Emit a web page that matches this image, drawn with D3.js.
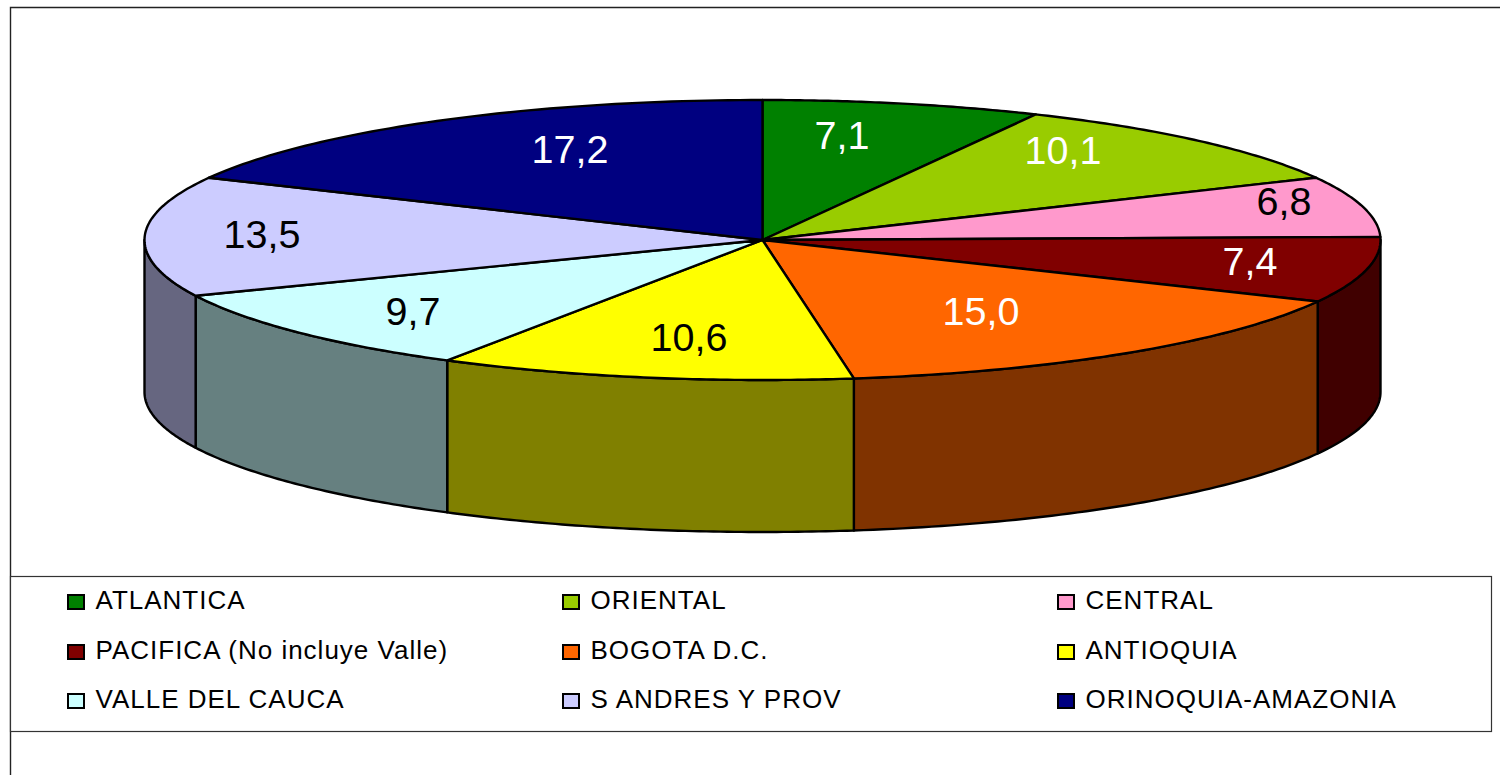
<!DOCTYPE html>
<html><head><meta charset="utf-8">
<script src="https://cdnjs.cloudflare.com/ajax/libs/d3/7.8.5/d3.min.js"></script>
<style>html,body{margin:0;padding:0;background:#fff;overflow:hidden}svg{display:block}text{font-family:"Liberation Sans",Arial,sans-serif}</style>
</head><body><svg id="c" width="1500" height="775"></svg>
<script>
const categories=["ATLANTICA","ORIENTAL","CENTRAL","PACIFICA (No incluye Valle)","BOGOTA D.C.","ANTIOQUIA","VALLE DEL CAUCA","S ANDRES Y PROV","ORINOQUIA-AMAZONIA"];
const values=[7.1,10.1,6.8,7.4,15.0,10.6,9.7,13.5,17.2];
const colors=["#008000","#99CC00","#FF99CC","#800000","#FF6600","#FFFF00","#CCFFFF","#CCCCFF","#000080"];
const labelColors=["#fff","#fff","#000","#fff","#fff","#000","#000","#000","#fff"];
const labelOffsets=[[80,-105],[301,-90],[522,-39],[488,21],[219,71],[-73,97],[-349,71],[-500,-6],[-192,-91]];

const cx=762.5,cy=240,rx=618,ry=140,depth=152;
const svg=d3.select("#c");
svg.append("rect").attr("width",1500).attr("height",775).attr("fill","#fff");
svg.append("path").attr("d","M10.5,775V7.5H1500").attr("fill","none").attr("stroke","#222").attr("stroke-width",1.4);
svg.append("rect").attr("x",10.5).attr("y",576.5).attr("width",1481).attr("height",155).attr("fill","#fff").attr("stroke","#333").attr("stroke-width",1.2);

const pie=d3.pie().sort(null).value(d=>d)(values);
const px=a=>cx+rx*Math.sin(a), py=(a,z=0)=>cy-ry*Math.cos(a)+z;
const g=svg.append("g").attr("stroke","#000").attr("stroke-width",2.4).attr("stroke-linejoin","round");

// side walls: visible front half only
const lo=Math.PI/2, hi=3*Math.PI/2;
pie.forEach((p,i)=>{
  const a0=Math.max(p.startAngle,lo), a1=Math.min(p.endAngle,hi);
  if(a1<=a0) return;
  const ang=d3.range(0,61).map(k=>a0+(a1-a0)*k/60);
  const pts=ang.map(a=>[px(a),py(a)]).concat(ang.slice().reverse().map(a=>[px(a),py(a,depth)]));
  g.append("path").attr("d",d3.line()(pts)+"Z").attr("fill",d3.interpolateRgb(colors[i],"#000")(0.5));
});
// top face
pie.forEach((p,i)=>{
  const ang=d3.range(0,61).map(k=>p.startAngle+(p.endAngle-p.startAngle)*k/60);
  const pts=[[cx,cy]].concat(ang.map(a=>[px(a),py(a)]));
  g.append("path").attr("d",d3.line()(pts)+"Z").attr("fill",colors[i]);
});
// data labels
svg.append("g").selectAll("text").data(values).join("text")
  .attr("x",(d,i)=>cx+labelOffsets[i][0]-0.5).attr("y",(d,i)=>cy+labelOffsets[i][1]+13.5)
  .attr("text-anchor","middle").attr("font-size",39.5).attr("fill",(d,i)=>labelColors[i])
  .text(d=>d.toFixed(1).replace(".",","));
// legend
const colX=d3.scaleOrdinal().domain([0,1,2]).range([68,563,1058]);
const rowY=d3.scaleOrdinal().domain([0,1,2]).range([602,652,701]);
const lg=svg.append("g");
categories.forEach((c,i)=>{
  const x=colX(i%3),y=rowY(Math.floor(i/3));
  lg.append("rect").attr("x",x).attr("y",y-7).attr("width",16).attr("height",14).attr("fill",colors[i]).attr("stroke","#000").attr("stroke-width",2);
  lg.append("text").attr("x",x+27.5).attr("y",y+7).attr("font-size",26).attr("letter-spacing",1).attr("fill","#000").text(c);
});
</script></body></html>
